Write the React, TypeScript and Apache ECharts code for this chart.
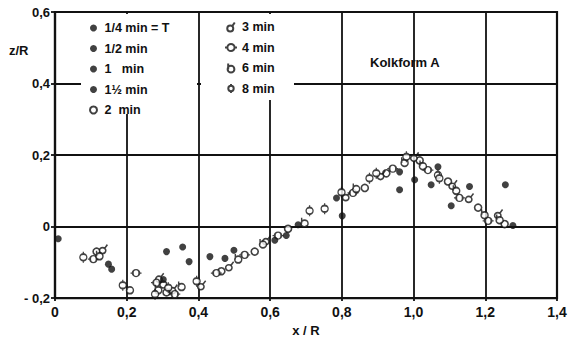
import React, { useEffect, useRef } from "react";
import * as echarts from "echarts";

// Scour-profile measurements z/R over x/R for each elapsed time
const t025: [number, number][] = [[0.009, -0.034], [0.311, -0.07], [0.801, 0.03], [0.961, 0.103], [1.105, 0.058]];
const t05: [number, number][] = [[0.356, -0.057], [0.432, -0.084], [0.785, 0.08], [1.003, 0.131], [1.256, 0.117]];
const t1: [number, number][] = [[0.149, -0.105], [0.374, -0.098], [0.474, -0.089], [0.961, 0.153], [1.049, 0.117], [1.156, 0.112]];
const t15: [number, number][] = [[0.158, -0.119], [0.302, -0.148], [0.499, -0.066], [0.613, -0.038], [0.645, -0.025], [0.678, 0.005], [1.068, 0.167], [1.277, 0.003]];
const t2: [number, number][] = [[0.116, -0.07], [0.302, -0.162], [0.311, -0.184], [0.464, -0.125], [0.557, -0.07], [0.65, -0.006], [0.864, 0.108], [0.924, 0.149], [1.017, 0.185], [1.096, 0.126], [1.18, 0.053], [1.254, 0.007]];
const t3: [number, number][] = [[0.135, -0.063], [0.292, -0.143], [0.33, -0.175], [0.409, -0.164], [0.487, -0.111], [0.59, -0.038], [0.813, 0.085], [0.91, 0.144], [1.003, 0.195], [1.11, 0.117], [1.156, 0.08], [1.237, 0.035]];
const t4: [number, number][] = [[0.107, -0.091], [0.226, -0.13], [0.283, -0.157], [0.334, -0.189], [0.45, -0.13], [0.529, -0.079], [0.622, -0.025], [0.831, 0.094], [0.942, 0.162], [1.04, 0.158], [1.128, 0.08], [1.208, 0.016]];
const t6: [number, number][] = [[0.124, -0.08], [0.209, -0.175], [0.288, -0.175], [0.353, -0.166], [0.511, -0.089], [0.58, -0.047], [0.696, 0.012], [0.84, 0.108], [0.975, 0.181], [1.026, 0.172], [1.119, 0.103], [1.198, 0.035], [1.24, 0.021]];
const t8: [number, number][] = [[0.079, -0.086], [0.189, -0.164], [0.279, -0.189], [0.316, -0.171], [0.395, -0.153], [0.71, 0.044], [0.752, 0.05], [0.799, 0.096], [0.877, 0.135], [0.896, 0.149], [0.98, 0.195], [1.068, 0.144], [1.072, 0.135]];

const filledNames = ["1/4 min = T", "1/2 min", "1\u00a0\u00a0\u00a0min", "1\u00bd min"];
const openNames = ["2\u00a0\u00a0min", "3 min", "4 min", "6 min", "8 min"];

const xTickLabels = ["0", "0,2", "0,4", "0,6", "0,8", "1,0", "1,2", "1,4"];
const yTickLabels = ["- 0,2", "0", "0,2", "0,4", "0,6"];

const INK = "#111111";
const FONT = "'Liberation Sans', Arial, sans-serif";

// open marker shapes: plain ring, ring with slanted flag, ring with side ticks,
// ring with a stem at upper left, ring with top/bottom ticks
const SYM_RING = "circle";
const SYM_FLAG = "path://M2,7 A3,3 0 1,0 8,7 A3,3 0 1,0 2,7 Z M7,4.6 L9.5,1";
const SYM_SIDE = "path://M0,5 L2,5 M2,5 A3,3 0 1,0 8,5 A3,3 0 1,0 2,5 Z M8,5 L10,5";
const SYM_STEM = "path://M2.5,1 L2.5,6 M2,6 A3,3 0 1,0 8,6 A3,3 0 1,0 2,6 Z";
const SYM_VERT = "path://M5,0 L5,2 M2,5 A3,3 0 1,0 8,5 A3,3 0 1,0 2,5 Z M5,8 L5,10";

export default function App() {
  const ref = useRef<HTMLDivElement>(null);

  useEffect(() => {
    if (!ref.current) return;
    const chart = echarts.init(ref.current, null, { renderer: "svg" });

    const filledData = [t025, t05, t1, t15];
    const openData = [t2, t3, t4, t6, t8];
    const openSymbols = [SYM_RING, SYM_FLAG, SYM_SIDE, SYM_STEM, SYM_VERT];
    const openSizes: (number | number[])[] = [7, [8, 9], [11, 7], [7, 9], [7, 11]];

    const series: any[] = [];
    filledNames.forEach((name, i) => {
      series.push({
        type: "scatter",
        name,
        data: filledData[i],
        symbol: "circle",
        symbolSize: 7,
        itemStyle: { color: INK },
        z: 3,
      });
    });
    openNames.forEach((name, i) => {
      series.push({
        type: "scatter",
        name,
        data: openData[i],
        symbol: openSymbols[i],
        symbolSize: openSizes[i],
        itemStyle: { color: "#ffffff", borderColor: INK, borderWidth: 1.6 },
        z: 2,
      });
    });

    const legendText = { fontFamily: FONT, fontWeight: "bold", fontSize: 12.5, color: INK, lineHeight: 14 };

    chart.setOption({
      animation: false,
      backgroundColor: "#ffffff",
      grid: {
        left: 55,
        top: 12,
        right: 14,
        bottom: 38,
        show: true,
        borderColor: INK,
        borderWidth: 2.2,
        backgroundColor: "transparent",
      },
      xAxis: {
        type: "value",
        min: 0,
        max: 1.4,
        interval: 0.2,
        name: "x / R",
        nameLocation: "middle",
        nameGap: 24,
        nameTextStyle: { fontFamily: FONT, fontWeight: "bold", fontSize: 13, color: INK },
        axisLine: { show: true, onZero: false, lineStyle: { color: INK, width: 2.2 } },
        axisTick: { show: true, length: 3, lineStyle: { color: INK, width: 1.8 } },
        splitLine: { show: true, lineStyle: { color: INK, width: 1.8 } },
        axisLabel: {
          margin: 7,
          fontFamily: FONT,
          fontWeight: "bold",
          fontSize: 14,
          color: INK,
          formatter: (v: number) => xTickLabels[Math.round(v / 0.2)] ?? "",
        },
      },
      yAxis: {
        type: "value",
        min: -0.2,
        max: 0.6,
        interval: 0.2,
        axisLine: { show: true, onZero: false, lineStyle: { color: INK, width: 2.2 } },
        axisTick: { show: true, length: 4, lineStyle: { color: INK, width: 1.8 } },
        splitLine: { show: true, lineStyle: { color: INK, width: 1.8 } },
        axisLabel: {
          margin: 5,
          fontFamily: FONT,
          fontWeight: "bold",
          fontSize: 13,
          color: INK,
          formatter: (v: number) => yTickLabels[Math.round((v + 0.2) / 0.2)] ?? "",
        },
      },
      legend: [
        {
          data: filledNames.concat([openNames[0]]),
          orient: "vertical",
          left: 84,
          top: 16,
          itemWidth: 12,
          itemHeight: 7,
          itemGap: 6.5,
          textStyle: legendText,
          selectedMode: false,
          z: 30,
        },
        {
          data: openNames.slice(1),
          orient: "vertical",
          left: 219,
          top: 15,
          itemWidth: 12,
          itemHeight: 9,
          itemGap: 6.5,
          textStyle: legendText,
          selectedMode: false,
          z: 30,
        },
      ],
      graphic: [
        { type: "rect", z: 20, shape: { x: 81, y: 14, width: 116, height: 100 }, style: { fill: "#ffffff" } },
        { type: "rect", z: 20, shape: { x: 201, y: 14, width: 93, height: 86 }, style: { fill: "#ffffff" } },
        {
          type: "text",
          z: 30,
          left: 370,
          top: 56,
          style: { text: "Kolkform A", fontFamily: FONT, fontWeight: "bold", fontSize: 13, fill: INK },
        },
        {
          type: "text",
          z: 30,
          left: 9,
          top: 44,
          style: { text: "z/R", fontFamily: FONT, fontWeight: "bold", fontSize: 13, fill: INK },
        },
      ],
      series,
    });

    return () => chart.dispose();
  }, []);

  return <div ref={ref} style={{ width: 571, height: 342, position: "absolute", left: 0, top: 0 }} />;
}
